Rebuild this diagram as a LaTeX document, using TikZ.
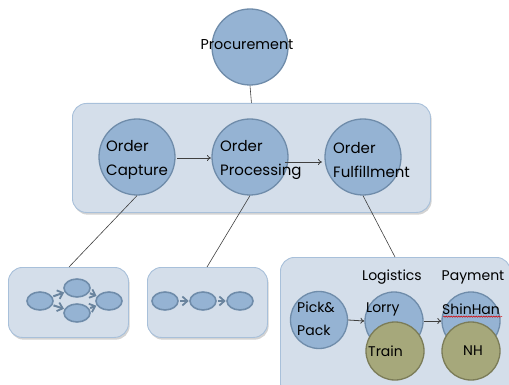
\documentclass[tikz,border=0pt]{standalone}
\usepackage{fontspec}
\setmainfont{Poppins}
\usetikzlibrary{shadows,arrows.meta,decorations.pathmorphing,shapes.geometric}

\definecolor{bubblefill}{HTML}{95B3D3}
\definecolor{bubbleline}{HTML}{6F8CAA}
\definecolor{olivefill}{HTML}{A6A87B}
\definecolor{oliveline}{HTML}{7B7C58}
\definecolor{panelfill}{HTML}{D4DEEA}
\definecolor{panelline}{HTML}{A8C0DA}
\definecolor{flowline}{HTML}{6A849E}

\tikzset{
  panel/.style={draw=panelline, fill=panelfill, line width=0.9pt, rounded corners=14pt,
    drop shadow={shadow xshift=1.2pt, shadow yshift=-2.2pt, opacity=0.35}},
  bubble/.style={circle, draw=bubbleline, fill=bubblefill, line width=1.3pt, minimum size=#1, inner sep=0pt},
  bubble/.default=76pt,
  olive/.style={circle, draw=oliveline, fill=olivefill, line width=1.3pt, minimum size=58pt, inner sep=0pt},
  blob/.style={ellipse, draw=bubbleline, fill=bubblefill, line width=1.6pt, minimum width=26pt, minimum height=18pt, inner sep=0pt},
  flow/.style={draw=flowline, line width=2pt, -{Straight Barb[length=5pt,width=9pt,line width=1.8pt]}, shorten <=1pt, shorten >=0.5pt},
  link/.style={draw=black!75, line width=0.6pt},
  step arrow/.style={draw=black!75, line width=0.8pt, -{To[length=4pt,width=6pt]}},
  label/.style={font=\fontsize{15}{24}\selectfont, align=left, inner sep=0pt, text=black},
  small/.style={font=\fontsize{14}{23}\selectfont, align=left, inner sep=0pt, text=black},
}

\begin{document}
\begin{tikzpicture}[x=1pt, y=-1pt]
\useasboundingbox (0,0) rectangle (509,385);
\clip (0,0) rectangle (509,385);

% panels
\node[panel, minimum width=358pt, minimum height=109pt, anchor=north west] (top) at (72,103) {};
\node[panel, minimum width=120pt, minimum height=70pt, anchor=north west] (left) at (8,267) {};
\node[panel, minimum width=120pt, minimum height=70pt, anchor=north west] (mid) at (147,267) {};
\node[panel, minimum width=230pt, minimum height=140pt, anchor=north west] (right) at (280,257) {};

% procurement
\node[bubble] (proc) at (250,47) {};
\node[label, font=\fontsize{14.3}{20}\selectfont, anchor=center] (proct) at (247,45) {Procurement};
\draw[link] (proc.south) -- (top.north);

% order pipeline
\node[bubble] (cap) at (137,157) {};
\node[bubble] (pro) at (250,157) {};
\node[bubble] (ful) at (363,157) {};
\node[label, anchor=west] (capt) at (106,160) {Order\\Capture};
\node[label, anchor=west] (prot) at (220,160) {Order\\Processing};
\node[label, anchor=west] (fult) at (333,160) {Order\\Fulfillment};
\coordinate (a1) at (177,158);
\coordinate (a2) at (211,158);
\coordinate (b1) at (285,162);
\coordinate (b2) at (322,162);
\draw[step arrow] (a1) -- (a2);
\draw[step arrow] (b1) -- (b2);

% connectors down to the detail panels
\coordinate (cl) at (69,267);
\coordinate (cm) at (207,267);
\coordinate (cr) at (395,257);
\draw[link] (cap.south) -- (cl);
\draw[link] (pro.south) -- (cm);
\draw[link] (ful.south) -- (cr);

% branching flow
\node[blob] (l1) at (40,301) {};
\node[blob] (l2) at (77,288) {};
\node[blob] (l3) at (77,313) {};
\node[blob] (l4) at (109,301) {};
\draw[flow] (l1) -- (l2);
\draw[flow] (l1) -- (l3);
\draw[flow] (l2) -- (l4);
\draw[flow] (l3) -- (l4);

% linear flow
\node[blob] (m1) at (165,301) {};
\node[blob] (m2) at (203,301) {};
\node[blob] (m3) at (240,301) {};
\draw[flow] (m1) -- (m2);
\draw[flow] (m2) -- (m3);

% fulfillment detail
\node[bubble=57pt] (pick) at (319,320) {};
\node[bubble=58pt] (lorry) at (394,321) {};
\node[bubble=58pt] (shin) at (471,321) {};
\node[olive] (train) at (395,351) {};
\node[olive] (nh) at (471,351) {};
\node[small, anchor=west] (pickt) at (297,319) {Pick\&\\Pack};
\node[small, anchor=west] (lorryt) at (366,309) {Lorry};
\node[small, anchor=west] (traint) at (368,351) {Train};
\node[small, anchor=west] (shint) at (442,309) {ShinHan};
\node[small, anchor=center] (nht) at (473,351) {NH};
\node[small, anchor=center] (logt) at (392,277) {Logistics};
\node[small, anchor=center] (payt) at (473,277) {Payment};
\draw[red!85!black, line width=0.5pt, decorate, decoration={snake, amplitude=0.7pt, segment length=2.5pt}]
  (shint.south west) ++(1,2) -- ++(59,0);
\draw[step arrow] (pick.east) -- (lorry.west);
\draw[step arrow] (lorry.east) -- (shin.west);
\end{tikzpicture}
\end{document}
